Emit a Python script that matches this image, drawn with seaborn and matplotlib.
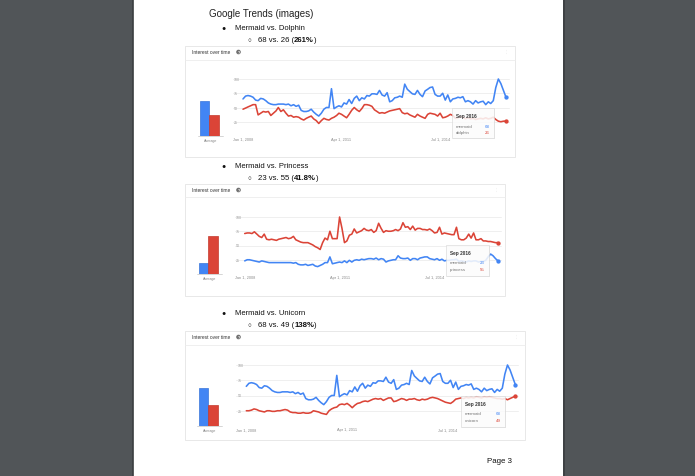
import matplotlib
matplotlib.use("Agg")
import numpy as np
import pandas as pd
import matplotlib.pyplot as plt
from matplotlib.patches import Rectangle, Circle
import seaborn as sns

W, H = 695, 477

# monthly values, Jan 2008 .. Sep 2016
months = pd.date_range("2008-01-01", "2016-09-01", freq="MS")

mermaid = [65, 70, 71, 70, 68, 63, 62, 66, 65, 62, 58, 56,
           55, 55, 56, 56, 56, 55, 56, 53, 55, 52, 54, 45,
           43, 43, 44, 47, 42, 38, 35, 40, 47, 50, 50, 83,
           48, 51, 53, 51, 58, 56, 64, 57, 66, 70, 62, 67,
           65, 71, 70, 74, 74, 73, 80, 72, 70, 76, 60, 62,
           67, 68, 70, 68, 91, 82, 78, 74, 73, 80, 73, 69,
           79, 82, 85, 86, 73, 70, 70, 75, 63, 72, 60, 65,
           66, 68, 67, 69, 60, 62, 60, 56, 62, 58, 60, 61,
           55, 60, 57, 62, 85, 100, 92, 80, 68]
dolphin = [47, 49, 51, 53, 55, 55, 37, 40, 43, 42, 43, 36,
           40, 44, 50, 43, 46, 40, 35, 36, 33, 34, 33, 30,
           28, 31, 33, 35, 30, 27, 22, 27, 31, 29, 28, 31,
           33, 36, 40, 38, 35, 32, 38, 45, 50, 46, 43, 48,
           55, 55, 54, 52, 46, 43, 40, 41, 40, 42, 44, 45,
           46, 47, 48, 41, 39, 40, 37, 35, 33, 38, 35, 33,
           31, 38, 40, 39, 38, 35, 40, 32, 33, 35, 38, 36,
           31, 32, 34, 33, 30, 32, 30, 31, 29, 30, 31, 30,
           32, 30, 31, 33, 29, 26, 25, 26, 26]
mermaid_p = [23, 25, 25, 24, 23, 22, 21, 23, 22, 21, 20, 20,
             20, 20, 20, 20, 20, 20, 20, 20, 19, 20, 17, 16,
             16, 17, 15, 16, 17, 14, 13, 15, 17, 20, 20, 30,
             18, 19, 20, 21, 20, 23, 20, 24, 21, 24, 25, 24,
             26, 25, 26, 27, 27, 26, 28, 25, 27, 26, 21, 23,
             24, 25, 25, 32, 28, 27, 27, 28, 24, 27, 27, 25,
             28, 29, 30, 30, 27, 26, 25, 27, 24, 26, 23, 24,
             24, 25, 25, 26, 22, 23, 22, 21, 23, 22, 23, 23,
             21, 22, 22, 24, 30, 35, 32, 27, 23]
princess = [71, 72, 72, 71, 74, 70, 66, 64, 70, 61, 60, 61,
            60, 59, 61, 62, 63, 64, 62, 63, 66, 60, 58, 56,
            55, 55, 55, 53, 51, 48, 46, 43, 55, 63, 60, 75,
            62, 62, 62, 100, 80, 55, 58, 68, 70, 79, 72, 74,
            76, 80, 77, 76, 78, 73, 76, 89, 80, 73, 76, 75,
            75, 76, 78, 76, 79, 90, 82, 83, 78, 84, 77, 80,
            80, 78, 78, 77, 79, 76, 72, 73, 82, 70, 72, 71,
            70, 69, 69, 82, 62, 60, 60, 63, 70, 63, 72, 60,
            60, 62, 58, 58, 57, 57, 56, 55, 55]
unicorn = [25, 25, 26, 28, 27, 25, 24, 23, 25, 25, 24, 24,
           25, 25, 26, 27, 26, 23, 22, 22, 21, 21, 22, 21,
           21, 22, 25, 24, 23, 21, 20, 19, 25, 28, 30, 31,
           35, 36, 35, 37, 34, 30, 34, 37, 38, 40, 41, 40,
           42, 44, 45, 44, 45, 42, 44, 46, 46, 40, 41, 43,
           45, 44, 42, 44, 44, 45, 43, 42, 44, 43, 44, 46,
           47, 46, 45, 43, 41, 39, 38, 37, 40, 44, 45, 46,
           45, 47, 46, 47, 46, 48, 47, 46, 48, 47, 48, 47,
           46, 45, 45, 44, 45, 43, 45, 47, 49]

avg_dolphin = [61, 36]
avg_princess = [20, 67]
avg_unicorn = [63, 35]

tick_dates = ["2008-01-01", "2011-04-01", "2014-07-01"]
tick_labels = ["Jan 1, 2008", "Apr 1, 2011", "Jul 1, 2014"]

BLUE = "#4285f4"
RED = "#db4437"
FONT = ["Liberation Sans", "DejaVu Sans"]

sns.set_style("white")
plt.rcParams["font.family"] = FONT

fig = plt.figure(figsize=(W / 100, H / 100), dpi=100)
fig.patch.set_facecolor("#515558")


def box(x0, y0, x1, y1):
    return [x0 / W, 1 - y1 / H, (x1 - x0) / W, (y1 - y0) / H]


def pixel_axes(z):
    a = fig.add_axes([0, 0, 1, 1], zorder=z)
    a.set_xlim(0, W)
    a.set_ylim(H, 0)
    a.axis("off")
    a.patch.set_alpha(0)
    return a


page = pixel_axes(0)
page.add_patch(Rectangle((133, 0), 430, H, facecolor="white", edgecolor="none"))
page.plot([132.5, 132.5], [0, H], color="#3b3e40", lw=1.2)
page.plot([563.5, 563.5], [0, H], color="#3b3e40", lw=1.2)

page.text(209, 14, "Google Trends (images)", fontsize=7.0, color="#222222", va="center")
page.text(487, 462, "Page 3", fontsize=5.7, color="#111111", va="center")

renderer = fig.canvas.get_renderer()


def pieces(x, y, parts, size):
    for txt, weight in parts:
        t = page.text(x, y, txt, fontsize=size, fontweight=weight, va="center", color="#111111")
        bb = t.get_window_extent(renderer)
        x += bb.width


def heading(y, title, parts):
    page.text(224, y, "\u25cf", fontsize=5.0, va="center", ha="center", color="#111111")
    page.text(235, y, title, fontsize=5.5, va="center", color="#111111")
    page.text(249, y + 11.5, "\u25cb", fontsize=4.6, va="center", ha="center", color="#111111")
    pieces(258, y + 11.5, parts, 5.6)


heading(29, "Mermaid vs. Dolphin", [("68 vs. 26 (", "normal"), ("261%", "bold"), (")", "normal")])
heading(167, "Mermaid vs. Princess", [("23 vs. 55 (", "normal"), ("41.8%", "bold"), (")", "normal")])
heading(314, "Mermaid vs. Unicorn", [("68 vs. 49 (", "normal"), ("138%", "bold"), (")", "normal")])

tips = pixel_axes(10)


def trend_chart(panel, header_y, sep_y, x0, x104, y100, y0, label_y, bar_left,
                series, names, avgs, tip):
    px0, py0, px1, py1 = panel
    page.add_patch(Rectangle((px0, py0), px1 - px0, py1 - py0, facecolor="white",
                             edgecolor="#e4e4e4", lw=0.6))
    page.plot([px0, px1], [sep_y, sep_y], color="#ececec", lw=0.6)
    page.text(192, header_y, "Interest over time", fontsize=3.5, color="#333333", va="center")
    page.add_patch(Circle((238.5, header_y), 2.3, facecolor="#707070", edgecolor="none"))
    page.text(238.5, header_y + 0.2, "?", fontsize=2.6, color="white", va="center",
              ha="center", fontweight="bold")
    for dy in (-1.6, 0, 1.6):
        page.add_patch(Circle((px1 - 8.5, header_y + dy), 0.45, facecolor="#777777"))

    # average bars
    unit = 10.5
    axb = fig.add_axes(box(bar_left - 3, y100, bar_left + 24, y0), zorder=2)
    df_avg = pd.DataFrame({"term": names, "avg": avgs})
    sns.barplot(data=df_avg, x="term", y="avg", hue="term", palette=[BLUE, RED],
                saturation=1, width=1.0, legend=False, ax=axb, linewidth=0)
    for p, c in zip(axb.patches, ["#3a76d8", "#c53a2e"]):
        p.set_edgecolor(c)
        p.set_linewidth(0.5)
    axb.set_xlim(-0.5 - 3 / unit, -0.5 + 27 / unit)
    axb.set_ylim(0, 100)
    axb.axis("off")
    axb.patch.set_alpha(0)
    page.plot([bar_left - 2, bar_left + 23], [y0, y0], color="#cfcfcf", lw=0.6)
    page.text(bar_left + 10.5, y0 + 4.5, "Average", fontsize=2.6, color="#888888",
              ha="center", va="center")

    # line chart
    ppm = (x104 - x0) / 104
    grid_left = x0 - 10
    ax = fig.add_axes(box(grid_left, y100, x104 + 3, y0), zorder=3)
    day = pd.Timedelta(days=30.44)
    ax.set_xlim(months[0] - day * (10 / ppm), months[-1] + day * (3 / ppm))
    ax.set_ylim(0, 100)
    for v in (25, 50, 75, 100):
        ax.axhline(v, color="#ececec", lw=0.6, zorder=0)
        ax.text(0.004, v, str(v), transform=ax.get_yaxis_transform(), fontsize=2.6,
                color="#9a9a9a", va="center", ha="left", zorder=1)
    df = pd.DataFrame({"month": list(months) * 2,
                       "value": list(series[0]) + list(series[1]),
                       "term": [names[0]] * len(months) + [names[1]] * len(months)})
    sns.lineplot(data=df, x="month", y="value", hue="term", palette=[BLUE, RED],
                 linewidth=1.15, legend=False, ax=ax)
    for s, c in zip(series, [BLUE, RED]):
        ax.plot([months[-1]], [s[-1]], "o", color=c, ms=2.1, mec=c, clip_on=False)
    for ln in ax.lines:
        ln.set_clip_on(False)
    ax.set_xticks([])
    ax.set_yticks([])
    ax.set_xlabel("")
    ax.set_ylabel("")
    sns.despine(ax=ax, left=True, bottom=True)
    ax.patch.set_alpha(0)
    for d, lab in zip(tick_dates, tick_labels):
        ax.text(pd.Timestamp(d), -(label_y - y0) * 100 / (y0 - y100), lab, fontsize=2.8,
                color="#8a8a8a", ha="center", va="center", clip_on=False)

    # hover tooltip
    tx0, ty0, tx1, ty1 = tip
    tips.add_patch(Rectangle((tx0 + 0.8, ty0 + 0.8), tx1 - tx0, ty1 - ty0,
                             facecolor="#000000", alpha=0.08, edgecolor="none"))
    tips.add_patch(Rectangle((tx0, ty0), tx1 - tx0, ty1 - ty0, facecolor="white",
                             alpha=0.86, edgecolor="#d6d6d6", lw=0.5))
    tips.text(tx0 + 4, ty0 + 7.5, "Sep 2016", fontsize=3.4, fontweight="bold",
              color="#333333", va="center")
    for i, (nm, c, s) in enumerate(zip(names, [BLUE, RED], series)):
        yy = ty0 + 17.5 + i * 6.5
        tips.text(tx0 + 4, yy, nm, fontsize=3.2, color="#777777", va="center")
        tips.text(tx1 - 4, yy, str(s[-1]), fontsize=3.2, color=c, va="center", ha="right")


trend_chart((185, 47, 515, 158), 53, 60.5, 243, 506, 80, 137, 140, 200,
            [mermaid, dolphin], ["mermaid", "dolphin"], avg_dolphin, (452, 109, 494, 139))
trend_chart((185, 185, 505, 297), 191, 197.5, 244.7, 498, 218, 275, 278, 199,
            [mermaid_p, princess], ["mermaid", "princess"], avg_princess, (446, 246, 489, 277))
trend_chart((185, 332, 525, 441), 338, 346, 246.3, 515.3, 366, 427, 430.5, 199,
            [mermaid, unicorn], ["mermaid", "unicorn"], avg_unicorn, (461, 397, 505, 428))

fig.savefig("out.png", dpi=100, facecolor=fig.get_facecolor())
